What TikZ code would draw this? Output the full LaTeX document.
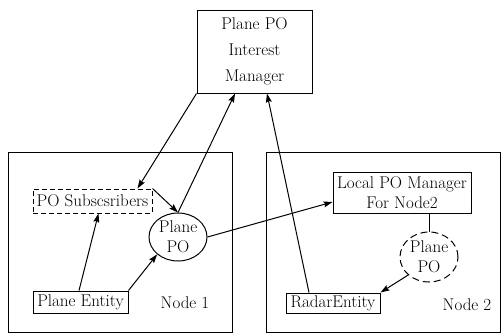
\documentclass[tikz,border=0pt]{standalone}
\usetikzlibrary{arrows.meta,shapes,positioning,calc}
\tikzset{
    flow/.style={-{Stealth[length=9pt, width=6pt, inset=1.5pt]}, line width=1pt},
    link/.style={line width=1pt},
    box/.style={draw, line width=1pt, inner sep=0pt, align=center},
    dbox/.style={box, dash pattern=on 5pt off 3pt},
    po/.style={draw, ellipse, line width=1pt, inner sep=0pt, align=center},
    dpo/.style={po, dash pattern=on 7pt off 4pt},
    area/.style={draw, line width=1pt, inner sep=0pt}
}

\begin{document}
\begin{tikzpicture}[x=1pt, y=-1pt, font=\fontsize{17}{20}\selectfont]
            \useasboundingbox (0,0) rectangle (502,333);
            % Interest manager
            \node[box, minimum width=115pt, minimum height=83pt] (pim) at (254.5,51.5) {Plane PO\\[6pt]Interest\\[6pt]Manager};

            % Node 1
            \node[area, minimum width=224pt, minimum height=180pt] (n1) at (120,242) {};
            \node[dbox, minimum width=119pt, minimum height=24pt] (subs) at (92.5,201) {PO Subscsribers};
            \node[po, minimum width=58pt, minimum height=48pt] (ppo1) at (178,237) {Plane\\PO};
            \node[box, minimum width=95pt, minimum height=22pt] (pe) at (80.5,302) {Plane Entity};
            \node at (185,303) {Node 1};

            % Node 2
            \node[area, minimum width=234pt, minimum height=180pt] (n2) at (383,242) {};
            \node[box, minimum width=138pt, minimum height=41pt] (lpm) at (402,192.5) {Local PO Manager\\For Node2};
            \node[dpo, minimum width=58pt, minimum height=50pt] (ppo2) at (429,257) {Plane\\PO};
            \node[box, minimum width=94pt, minimum height=20pt] (radar) at (333,303) {RadarEntity};
            \node at (467,305) {Node 2};

            \draw[flow] (pim.south west) -- ([xshift=-15pt]subs.north east);
            \draw[flow] (ppo1.north) -- ([xshift=-19.5pt]pim.south);
            \draw[flow] ([xshift=-24pt]radar.north) -- ([xshift=12.5pt]pim.south);
            \draw[flow] (subs.north east) -- (ppo1.north);
            \draw[flow] ([xshift=-1.5pt]pe.north) -- ([xshift=6pt]subs.south);
            \draw[flow] (pe.north east) -- (ppo1.south west);
            \draw[flow] (ppo1.east) -- ([yshift=-9.5pt]lpm.west);
            \draw[link] (ppo2.north |- lpm.south) -- (ppo2.north);
            \draw[flow] (ppo2.south west) -- (radar.north east);
        \end{tikzpicture}
\end{document}
